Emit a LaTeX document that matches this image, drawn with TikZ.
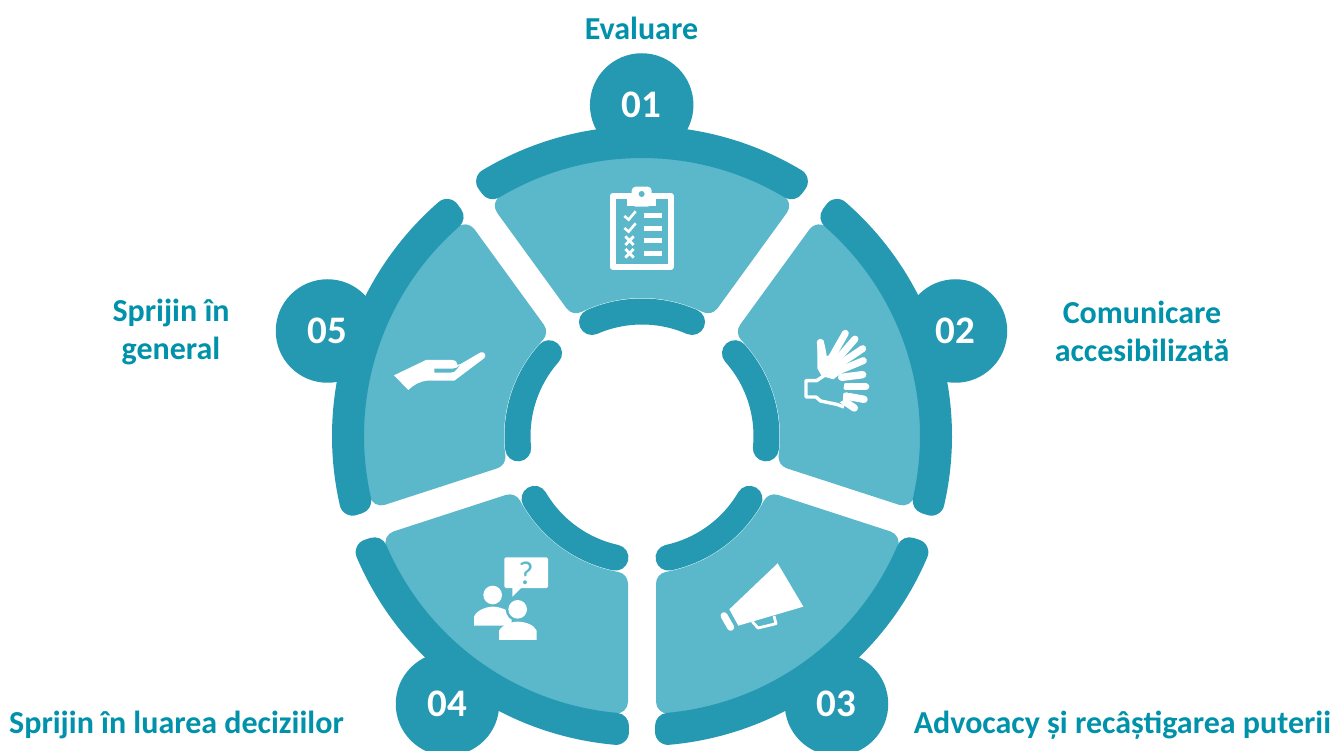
\documentclass[tikz,border=0pt]{standalone}
\usepackage{fontspec}
\setmainfont{Carlito}
\definecolor{darkteal}{RGB}{37,153,178}
\definecolor{lightteal}{RGB}{91,183,202}
\definecolor{labelteal}{RGB}{0,146,170}
\tikzset{
  lightsector/.style={fill=lightteal,draw=lightteal,line width=24pt,line join=round},
  outerband/.style={fill=darkteal,draw=darkteal,line width=26pt,line join=round},
  innerband/.style={draw=darkteal,line width=26pt,line cap=round},
  numdisc/.style={circle,fill=darkteal,text=white,inner sep=0pt,minimum size=103.5pt,font=\bfseries\fontsize{39}{39}\selectfont},
  steplabel/.style={text=labelteal,font=\bfseries\fontsize{32}{38}\selectfont,align=center,inner sep=0pt},
  zoomA/.style={x=0.33333pt,y=-0.33333pt},
  fingerout/.style={white,line width=7.4pt,line cap=round},
  fingerin/.style={lightteal,line width=1.6pt,line cap=round}
}
\begin{document}
\begin{tikzpicture}[x=1pt,y=-1pt]
\useasboundingbox (0,0) rectangle (1334,751);
\clip (0,0) rectangle (1334,751);
\fill[white] (0,0) rectangle (1334,751);
% sectors
\begin{scope}[shift={(642,436)}]
\foreach \a in {-90,-18,54,126,198}{
  \draw[lightsector] (\a-30.41:267) arc[start angle=\a-30.41,end angle=\a+30.41,radius=267]
    -- (\a+26.02:150) arc[start angle=\a+26.02,end angle=\a-26.02,radius=150] -- cycle;
  \draw[outerband] (\a-30.97:297) arc[start angle=\a-30.97,end angle=\a+30.97,radius=297]
    -- (\a+30.87:291) arc[start angle=\a+30.87,end angle=\a-30.87,radius=291] -- cycle;
  \draw[innerband] (\a-23.7:124.5) arc[start angle=\a-23.7,end angle=\a+23.7,radius=124.5];
}
\end{scope}
% numbered discs
\node[numdisc] (n1) at (641.7,105) {01};
\node[numdisc] (n2) at (955.5,331) {02};
\node[numdisc] (n3) at (836.5,704) {03};
\node[numdisc] (n4) at (447.5,704) {04};
\node[numdisc] (n5) at (327.5,331) {05};
% labels
\node[steplabel] (l1) at (641.5,28) {Evaluare};
\node[steplabel] (l2) at (1142,331.5) {Comunicare\\accesibilizată};
\node[steplabel] (l3) at (1122.5,725) {Advocacy și recâștigarea puterii};
\node[steplabel] (l4) at (176.5,725) {Sprijin în luarea deciziilor};
\node[steplabel] (l5) at (171,332) {Sprijin în\\general};
% clipboard icon
\begin{scope}[shift={(460,0)},zoomA]
  \draw[white,line width=6.2pt,line join=round] (458,588) rectangle (632,800);
  \fill[white,rounded corners=4pt] (515,620) -- (515,560) -- (575,560) -- (575,620) -- cycle;
  \fill[white] (502,585) rectangle (589,617);
  \fill[lightteal] (545,582) circle[radius=9];
  \foreach \y in {646,685,721,760}{\fill[white] (552,\y-8) rectangle (606,\y+8);}
  \draw[white,line width=2.6pt] (493,648) -- (506,659) -- (527,634);
  \draw[white,line width=2.6pt] (493,684) -- (506,695) -- (527,670);
  \foreach \y in {722,760}{
    \draw[white,line width=2.8pt] (496,\y-13) -- (521,\y+13) (521,\y-13) -- (496,\y+13);}
\end{scope}
% signing hands icon
\begin{scope}[shift={(720,270)},zoomA]
  \draw[fingerout] (365,322) -- (428,314);
  \draw[fingerout] (378,350) -- (437,350);
  \draw[fingerout] (378,378) -- (432,388);
  \draw[fingerout] (365,388) -- (403,414);
  \draw[fingerin] (385,337) -- (425,331);
  \draw[fingerin] (385,366) -- (425,369);
  \fill[lightteal] (258,332) -- (258,381) -- (288,381) -- (302,393) -- (348,403) -- (368,392) -- (372,340) -- (345,322) -- (320,305) -- cycle;
  \draw[white,line width=3.4pt,line join=round] (330,305) -- (290,332) -- (258,332) -- (258,381) -- (288,381) -- (302,393) -- (350,403) -- (372,411);
  \fill[white] (292,215) -- (310,210) .. controls (316,230) and (318,245) .. (320,258) -- (370,245) -- (375,300) -- (340,328) -- (305,318) -- (292,295) -- cycle;
  \draw[white,line width=7pt,line cap=round] (301,217) -- (306,270);
  \draw[white,line width=7pt,line cap=round] (376,190) -- (335,262);
  \draw[white,line width=7pt,line cap=round] (405,207) -- (350,270);
  \draw[white,line width=7pt,line cap=round] (428,236) -- (355,285);
  \draw[white,line width=7pt,line cap=round] (430,272) -- (350,305);
\end{scope}
% megaphone icon
\begin{scope}[shift={(640,480)},zoomA]
  \fill[white,line join=round] (413,250) -- (490,380) -- (295,437) -- (268,388) -- cycle;
  \draw[white,line width=2.8pt,line join=round] (337,425) -- (354,444) -- (408,431) -- (402,408);
  \draw[white,line width=7pt,line cap=round] (252,407) -- (272,442);
\end{scope}
% people icon
\begin{scope}[shift={(340,480)},zoomA]
  \fill[white,rounded corners=1.5pt] (493,232) rectangle (624,324);
  \fill[white] (517,320) -- (517,350) -- (547,320) -- cycle;
  \node[text=lightteal,font=\fontsize{33}{33}\selectfont,inner sep=0pt] (qm) at (558,279) {?};
  \fill[white] (458,345) circle[radius=28];
  \fill[white] (402,437) -- (402,410) .. controls (410,390) and (440,380) .. (458,380) .. controls (480,380) and (505,390) .. (515,405) -- (515,437) -- cycle;
  \fill[lightteal] (533,388) circle[radius=36];
  \fill[lightteal] (468,488) -- (468,460) .. controls (478,425) and (590,425) .. (600,460) -- (600,488) -- cycle;
  \fill[white] (533,388) circle[radius=28];
  \fill[white] (477,480) -- (477,452) .. controls (487,434) and (515,425) .. (533,425) .. controls (555,425) and (582,434) .. (590,452) -- (590,480) -- cycle;
\end{scope}
% open hand icon
\begin{scope}[shift={(270,190)},zoomA]
  \fill[white,line join=round] (372,556) -- (468,510) -- (545,510) .. controls (558,510) and (563,518) .. (562,525) -- (572,522) -- (632,487)
    .. controls (642,483) and (652,497) .. (642,505) -- (553,572) -- (470,572) .. controls (450,574) and (430,585) .. (415,600) -- cycle;
  \fill[lightteal] (493,536) -- (548,536) .. controls (555,536) and (565,532) .. (570,526) -- (560,538) .. controls (555,545) and (550,548) .. (540,548) -- (493,548) -- cycle;
\end{scope}
\end{tikzpicture}
\end{document}
